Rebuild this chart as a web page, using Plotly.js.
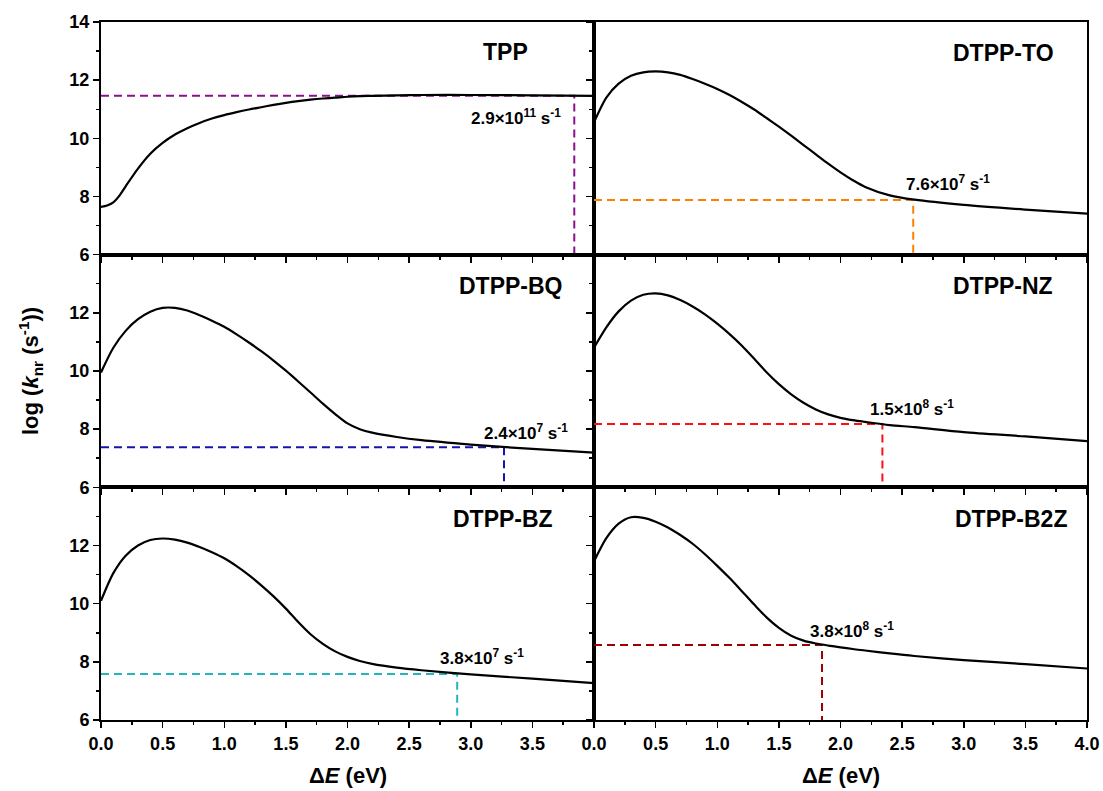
<!DOCTYPE html>
<html>
<head>
<meta charset="utf-8">
<script src="https://cdn.plot.ly/plotly-3.0.1.min.js"></script>
<style>html,body{margin:0;padding:0;background:#fff;}#chart{width:1103px;height:791px;}</style>
</head>
<body>
<div id="chart"></div>
<script>
// ---- data ----
var names = ["TPP", "DTPP-TO", "DTPP-BQ", "DTPP-NZ", "DTPP-BZ", "DTPP-B2Z"];
var dE = [0, 0.1, 0.2, 0.3, 0.4, 0.5, 0.6, 0.7, 0.8, 0.9, 1.0, 1.1, 1.2, 1.3, 1.4, 1.5, 1.6, 1.7, 1.8, 1.9, 2.0, 2.1, 2.2, 2.4, 2.6, 3.0, 3.5, 4.0];
var dETPP = [0, 0.05, 0.1, 0.15, 0.2, 0.3, 0.4, 0.5, 0.6, 0.7, 0.8, 0.9, 1.0, 1.1, 1.2, 1.3, 1.4, 1.5, 1.6, 1.7, 1.8, 1.9, 2.0, 2.1, 2.2, 2.4, 2.6, 3.0, 3.5, 4.0];
var logTPP  = [7.64, 7.69, 7.8, 8.03, 8.35, 8.96, 9.47, 9.84, 10.13, 10.35, 10.53, 10.68, 10.8, 10.9, 10.99, 11.07, 11.15, 11.22, 11.28, 11.33, 11.37, 11.4, 11.43, 11.45, 11.46, 11.48, 11.49, 11.49, 11.48, 11.46];
var logTO   = [10.55, 11.4, 11.88, 12.15, 12.27, 12.3, 12.27, 12.18, 12.04, 11.88, 11.7, 11.49, 11.25, 10.99, 10.7, 10.4, 10.09, 9.77, 9.45, 9.13, 8.83, 8.56, 8.33, 8.04, 7.89, 7.71, 7.55, 7.41];
var logBQ   = [9.95, 10.8, 11.38, 11.78, 12.04, 12.17, 12.17, 12.08, 11.92, 11.73, 11.52, 11.26, 10.98, 10.68, 10.36, 10.01, 9.64, 9.26, 8.88, 8.52, 8.2, 8.0, 7.88, 7.73, 7.62, 7.47, 7.32, 7.19];
var logNZ   = [10.8, 11.5, 12.05, 12.42, 12.62, 12.67, 12.6, 12.44, 12.22, 11.95, 11.63, 11.27, 10.87, 10.42, 9.96, 9.55, 9.2, 8.91, 8.68, 8.51, 8.39, 8.31, 8.25, 8.14, 8.07, 7.9, 7.75, 7.59];
var logBZ   = [10.1, 11.05, 11.65, 12.0, 12.19, 12.24, 12.2, 12.1, 11.95, 11.77, 11.56, 11.29, 10.98, 10.63, 10.25, 9.83, 9.37, 8.95, 8.62, 8.36, 8.17, 8.03, 7.93, 7.8, 7.71, 7.57, 7.42, 7.27];
var logB2Z  = [11.45, 12.25, 12.75, 12.97, 12.95, 12.82, 12.62, 12.36, 12.06, 11.7, 11.3, 10.88, 10.43, 9.97, 9.53, 9.17, 8.9, 8.73, 8.63, 8.56, 8.5, 8.44, 8.39, 8.29, 8.2, 8.06, 7.92, 7.77];
var series = [logTPP, logTO, logBQ, logNZ, logBZ, logB2Z];
var seriesX = [dETPP, dE, dE, dE, dE, dE];

// marked points (dashed guides)
var markE   = [3.84, 2.59, 3.27, 2.34, 2.89, 1.85];
var markLog = [11.46, 7.88, 7.38, 8.18, 7.58, 8.58];
var markColors = ["#8B108B", "#FF8000", "#1414A8", "#FF1010", "#22B5BF", "#A00000"];
var markText = ["2.9×10<sup>11</sup> s<sup>-1</sup>", "7.6×10<sup>7</sup> s<sup>-1</sup>", "2.4×10<sup>7</sup> s<sup>-1</sup>",
                "1.5×10<sup>8</sup> s<sup>-1</sup>", "3.8×10<sup>7</sup> s<sup>-1</sup>", "3.8×10<sup>8</sup> s<sup>-1</sup>"];
var markTextX = [3.37, 2.87, 3.45, 2.58, 3.09, 2.09];
var markTextY = [10.74, 8.47, 7.90, 8.72, 8.16, 9.09];
var nameX = [3.28, 3.32, 3.33, 3.32, 3.26, 3.38];
var nameY = [12.98, 12.94, 12.91, 12.91, 12.92, 12.92];

var xTickVals = [0, 0.5, 1, 1.5, 2, 2.5, 3, 3.5, 4];
var xTickTextLeft = ["0.0", "0.5", "1.0", "1.5", "2.0", "2.5", "3.0", "3.5", ""];
var xTickTextRight = ["0.0", "0.5", "1.0", "1.5", "2.0", "2.5", "3.0", "3.5", "4.0"];
var yTickVals = [6, 8, 10, 12, 14];
var yTickTextTop = ["6", "8", "10", "12", "14"];
var yTickTextLow = ["6", "8", "10", "12", ""];

// ---- build ----
var FONT = "Liberation Sans, Arial, sans-serif";
var traces = [];
var annotations = [];
for (var i = 0; i < 6; i++) {
  var ax = i === 0 ? "" : String(i + 1);
  traces.push({
    x: [0, markE[i], markE[i]], y: [markLog[i], markLog[i], 6],
    xaxis: "x" + ax, yaxis: "y" + ax, mode: "lines", hoverinfo: "skip",
    line: {color: markColors[i], width: 2, dash: "8px,5px"}, showlegend: false
  });
  traces.push({
    x: seriesX[i], y: series[i], xaxis: "x" + ax, yaxis: "y" + ax, mode: "lines", name: names[i],
    line: {color: "#000", width: 2.2, shape: "spline", smoothing: 0.8}, showlegend: false
  });
  annotations.push({xref: "x" + ax, yref: "y" + ax, x: nameX[i], y: nameY[i], text: "<b>" + names[i] + "</b>",
    showarrow: false, font: {family: FONT, size: 23, color: "#000"}});
  annotations.push({xref: "x" + ax, yref: "y" + ax, x: markTextX[i], y: markTextY[i], text: "<b>" + markText[i] + "</b>",
    showarrow: false, font: {family: FONT, size: 17, color: "#000"}});
}
annotations.push({xref: "paper", yref: "paper", x: -0.072, y: 0.5, xanchor: "center", yanchor: "middle", textangle: -90, showarrow: false,
  text: "<b>log (<i>k</i><sub>nr</sub> (s<sup>-1</sup>))</b>", font: {family: FONT, size: 22, color: "#000"}});
annotations.push({xref: "paper", yref: "paper", x: 0.25, y: -0.079, xanchor: "center", yanchor: "middle", showarrow: false,
  text: "<b>Δ<i>E</i> (eV)</b>", font: {family: FONT, size: 22, color: "#000"}});
annotations.push({xref: "paper", yref: "paper", x: 0.75, y: -0.079, xanchor: "center", yanchor: "middle", showarrow: false,
  text: "<b>Δ<i>E</i> (eV)</b>", font: {family: FONT, size: 22, color: "#000"}});

var layout = {
  width: 1103, height: 791,
  margin: {l: 101, r: 16, t: 22, b: 71},
  paper_bgcolor: "#fff", plot_bgcolor: "#fff",
  showlegend: false,
  annotations: annotations
};
var rowDom = [[2/3, 1], [1/3, 2/3], [0, 1/3]];
for (var j = 0; j < 6; j++) {
  var row = Math.floor(j / 2), col = j % 2;
  var s = j === 0 ? "" : String(j + 1);
  layout["xaxis" + s] = {
    domain: col === 0 ? [0, 0.5] : [0.5, 1], anchor: "y" + s, range: [0, 4],
    tickmode: "array", tickvals: xTickVals, ticktext: col === 0 ? xTickTextLeft : xTickTextRight,
    showticklabels: row === 2, ticks: "outside", ticklen: 6, tickwidth: 1.5, tickcolor: "#000",
    minor: {dtick: 0.25, tick0: 0, ticks: "outside", ticklen: 3, tickwidth: 1.5, tickcolor: "#000"},
    showline: true, linewidth: 2, linecolor: "#000", mirror: true, showgrid: false, zeroline: false,
    tickfont: {family: FONT, size: 18, color: "#000", weight: "bold"}
  };
  layout["yaxis" + s] = {
    domain: rowDom[row], anchor: "x" + s, range: [6, 14],
    tickmode: "array", tickvals: yTickVals, ticktext: row === 0 ? yTickTextTop : yTickTextLow,
    showticklabels: col === 0, ticks: "outside", ticklen: 6, tickwidth: 1.5, tickcolor: "#000",
    minor: {dtick: 1, tick0: 6, ticks: "outside", ticklen: 3, tickwidth: 1.5, tickcolor: "#000"},
    showline: true, linewidth: 2, linecolor: "#000", mirror: true, showgrid: false, zeroline: false,
    tickfont: {family: FONT, size: 18, color: "#000", weight: "bold"}
  };
}
Plotly.newPlot("chart", traces, layout, {staticPlot: true, displayModeBar: false});
</script>
</body>
</html>
